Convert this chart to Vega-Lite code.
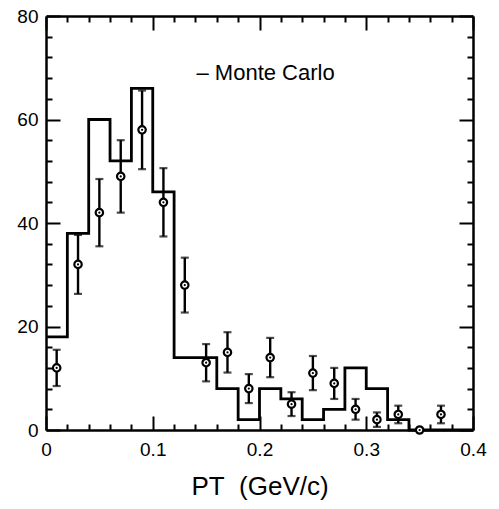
{
  "$schema": "https://vega.github.io/schema/vega-lite/v6.json",
  "autosize": "none",
  "width": 427,
  "height": 414,
  "padding": {"left": 46, "top": 16, "right": 26, "bottom": 79},
  "background": "white",
  "config": {
    "font": "Liberation Sans",
    "view": {"stroke": null},
    "axis": {
      "grid": false,
      "domainColor": "black",
      "domainWidth": 2.5,
      "ticks": true,
      "tickColor": "black",
      "tickWidth": 2,
      "labelColor": "black",
      "labelFont": "Liberation Sans",
      "labelFontSize": 19,
      "labelOverlap": false,
      "labelFlush": false,
      "titleColor": "black",
      "titleFont": "Liberation Sans",
      "titleFontWeight": "normal"
    }
  },
  "datasets": {
    "montecarlo": [
      {"edge": 0.00, "count": 18},
      {"edge": 0.02, "count": 38},
      {"edge": 0.04, "count": 60},
      {"edge": 0.06, "count": 52},
      {"edge": 0.08, "count": 66},
      {"edge": 0.10, "count": 46},
      {"edge": 0.12, "count": 14},
      {"edge": 0.14, "count": 14},
      {"edge": 0.16, "count": 8},
      {"edge": 0.18, "count": 2},
      {"edge": 0.20, "count": 8},
      {"edge": 0.22, "count": 6},
      {"edge": 0.24, "count": 2},
      {"edge": 0.26, "count": 4},
      {"edge": 0.28, "count": 12},
      {"edge": 0.30, "count": 8},
      {"edge": 0.32, "count": 2},
      {"edge": 0.34, "count": 0},
      {"edge": 0.36, "count": 0},
      {"edge": 0.38, "count": 0},
      {"edge": 0.40, "count": 0}
    ],
    "measured": [
      {"pt": 0.01, "n": 12, "lo": 8.5, "hi": 15.5},
      {"pt": 0.03, "n": 32, "lo": 26.3, "hi": 37.7},
      {"pt": 0.05, "n": 42, "lo": 35.5, "hi": 48.5},
      {"pt": 0.07, "n": 49, "lo": 42, "hi": 56},
      {"pt": 0.09, "n": 58, "lo": 50.4, "hi": 65.6},
      {"pt": 0.11, "n": 44, "lo": 37.4, "hi": 50.6},
      {"pt": 0.13, "n": 28, "lo": 22.7, "hi": 33.3},
      {"pt": 0.15, "n": 13, "lo": 9.4, "hi": 16.6},
      {"pt": 0.17, "n": 15, "lo": 11.1, "hi": 18.9},
      {"pt": 0.19, "n": 8, "lo": 5.2, "hi": 10.8},
      {"pt": 0.21, "n": 14, "lo": 10.2, "hi": 17.8},
      {"pt": 0.23, "n": 5, "lo": 2.7, "hi": 7.3},
      {"pt": 0.25, "n": 11, "lo": 7.7, "hi": 14.3},
      {"pt": 0.27, "n": 9, "lo": 6, "hi": 12},
      {"pt": 0.29, "n": 4, "lo": 2, "hi": 6},
      {"pt": 0.31, "n": 2, "lo": 0.6, "hi": 3.4},
      {"pt": 0.33, "n": 3, "lo": 1.3, "hi": 4.7},
      {"pt": 0.35, "n": 0, "lo": 0, "hi": 0},
      {"pt": 0.37, "n": 3, "lo": 1.3, "hi": 4.7}
    ]
  },
  "resolve": {"axis": {"x": "independent", "y": "independent"}},
  "layer": [
    {
      "data": {"name": "montecarlo"},
      "mark": {"type": "line", "interpolate": "step-after", "color": "black", "strokeWidth": 2.8},
      "encoding": {
        "x": {
          "field": "edge", "type": "quantitative",
          "scale": {"domain": [0, 0.4], "nice": false, "zero": false},
          "axis": {
            "orient": "bottom",
            "title": "PT\u00a0\u00a0(GeV/c)",
            "titleFontSize": 26,
            "titlePadding": 14,
            "tickSize": -14,
            "labelPadding": 24,
            "format": ".1~f",
            "values": [0, 0.1, 0.2, 0.3, 0.4]
          }
        },
        "y": {
          "field": "count", "type": "quantitative",
          "scale": {"domain": [0, 80], "nice": false},
          "axis": {
            "orient": "left",
            "title": null,
            "tickSize": -14,
            "labelPadding": 22,
            "values": [0, 20, 40, 60, 80]
          }
        }
      }
    },
    {
      "data": {"name": "measured"},
      "mark": {"type": "rule", "color": "black", "strokeWidth": 2.4},
      "encoding": {
        "x": {
          "field": "pt", "type": "quantitative",
          "axis": {"orient": "top", "title": null, "labels": false, "tickSize": -14, "values": [0, 0.1, 0.2, 0.3, 0.4]}
        },
        "y": {
          "field": "lo", "type": "quantitative",
          "axis": {"orient": "right", "title": null, "labels": false, "tickSize": -14, "values": [0, 20, 40, 60, 80]}
        },
        "y2": {"field": "hi"}
      }
    },
    {
      "data": {"name": "measured"},
      "mark": {"type": "tick", "orient": "horizontal", "color": "black", "size": 8, "thickness": 2.2},
      "encoding": {
        "x": {
          "field": "pt", "type": "quantitative",
          "axis": {"orient": "bottom", "title": null, "labels": false, "domain": false, "tickSize": -6,
                   "values": [0.02, 0.04, 0.06, 0.08, 0.12, 0.14, 0.16, 0.18, 0.22, 0.24, 0.26, 0.28, 0.32, 0.34, 0.36, 0.38]}
        },
        "y": {
          "field": "lo", "type": "quantitative",
          "axis": {"orient": "left", "title": null, "labels": false, "domain": false, "tickSize": -6,
                   "values": [4, 8, 12, 16, 24, 28, 32, 36, 44, 48, 52, 56, 64, 68, 72, 76]}
        }
      }
    },
    {
      "data": {"name": "measured"},
      "mark": {"type": "tick", "orient": "horizontal", "color": "black", "size": 8, "thickness": 2.2},
      "encoding": {
        "x": {
          "field": "pt", "type": "quantitative",
          "axis": {"orient": "top", "title": null, "labels": false, "domain": false, "tickSize": -6,
                   "values": [0.02, 0.04, 0.06, 0.08, 0.12, 0.14, 0.16, 0.18, 0.22, 0.24, 0.26, 0.28, 0.32, 0.34, 0.36, 0.38]}
        },
        "y": {
          "field": "hi", "type": "quantitative",
          "axis": {"orient": "right", "title": null, "labels": false, "domain": false, "tickSize": -6,
                   "values": [4, 8, 12, 16, 24, 28, 32, 36, 44, 48, 52, 56, 64, 68, 72, 76]}
        }
      }
    },
    {
      "data": {"name": "measured"},
      "mark": {"type": "point", "shape": "circle", "filled": false, "color": "black", "fill": "white", "fillOpacity": 1, "size": 55, "strokeWidth": 2.2, "opacity": 1},
      "encoding": {
        "x": {"field": "pt", "type": "quantitative", "axis": null},
        "y": {"field": "n", "type": "quantitative", "axis": null}
      }
    },
    {
      "data": {"name": "measured"},
      "mark": {"type": "point", "shape": "circle", "filled": true, "color": "black", "size": 5, "opacity": 1},
      "encoding": {
        "x": {"field": "pt", "type": "quantitative", "axis": null},
        "y": {"field": "n", "type": "quantitative", "axis": null}
      }
    },
    {
      "data": {"values": [{"label": "– Monte Carlo"}]},
      "mark": {"type": "text", "align": "left", "baseline": "middle", "font": "Liberation Sans", "fontSize": 22, "color": "black"},
      "encoding": {
        "x": {"datum": 0.141, "type": "quantitative", "axis": null},
        "y": {"datum": 69, "type": "quantitative", "axis": null},
        "text": {"field": "label"}
      }
    }
  ]
}
